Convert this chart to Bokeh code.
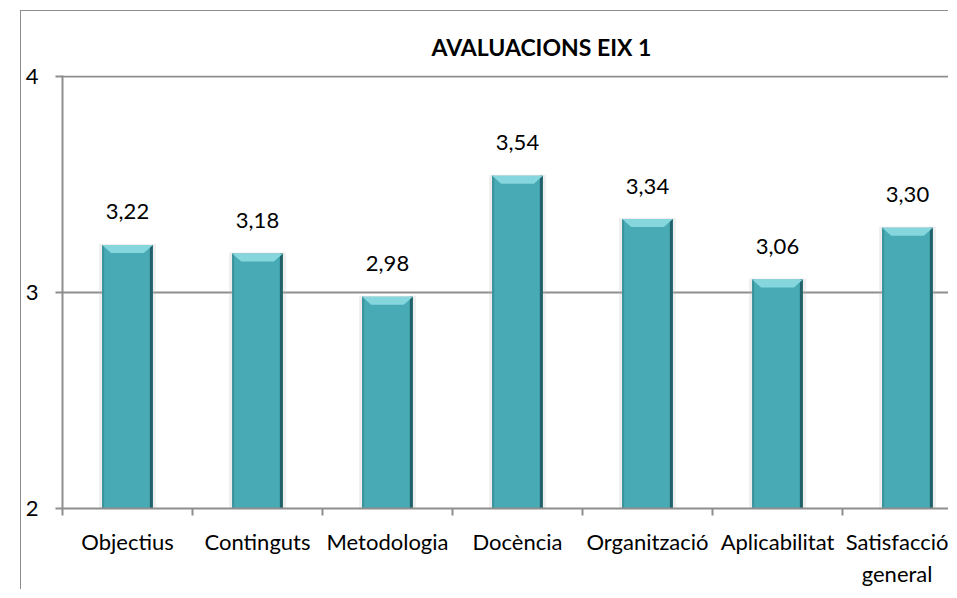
from bokeh.plotting import figure
from bokeh.models import Range1d, FixedTicker, LinearAxis
from bokeh.embed import file_html
from bokeh.resources import INLINE
from bokeh.core.properties import value

# ---- data ----
categories = ["Objectius", "Continguts", "Metodologia", "Docència",
              "Organització", "Aplicabilitat", "Satisfacció\ngeneral"]
scores = [3.22, 3.18, 2.98, 3.54, 3.34, 3.06, 3.30]
y_ticks = [2, 3, 4]
y_tick_labels = ["2", "3", "4"]
title_text = "AVALUACIONS EIX 1"

# ---- layout constants ----
FONT = "Lato"
W, H = 928, 579
BORDER_L, BORDER_B, BORDER_T = 41, 82, 64
CAT_PX = 130.0
frame_w = W - BORDER_L
frame_h = H - BORDER_T - BORDER_B
x_end = frame_w / CAT_PX
y0, y1 = 2, 4
px_y = frame_h / (y1 - y0)

n = len(categories)
xc = [i + 0.5 for i in range(n)]
bar_w = 0.39

p = figure(width=W, height=H, output_backend="svg", toolbar_location=None,
           x_range=Range1d(0, x_end), y_range=Range1d(y0, y1 + 1.0 / px_y),
           min_border_left=BORDER_L, min_border_right=0,
           min_border_top=BORDER_T, min_border_bottom=BORDER_B,
           x_axis_type=None)
p.margin = (10, 0, 0, 20)
p.styles = {"border-left": "1px solid #8c8c8c", "border-top": "1px solid #8c8c8c"}
p.outline_line_color = None
p.background_fill_color = "white"
p.border_fill_color = "white"

# title
p.title.text = title_text
p.title.text_font = FONT
p.title.text_font_size = "23px"
p.title.text_font_style = "bold"
p.title.text_color = "black"
p.title.align = "left"
p.title.offset = 369
p.title.standoff = 30

# y axis
yax = p.yaxis[0]
yax.ticker = FixedTicker(ticks=y_ticks)
yax.major_label_overrides = {t: l for t, l in zip(y_ticks, y_tick_labels)}
yax.minor_tick_line_color = None
yax.major_tick_in = 0
yax.major_tick_out = 7
yax.major_label_standoff = 17
yax.axis_line_color = "#8e8e8e"
yax.axis_line_width = 2
yax.major_tick_line_color = "#8e8e8e"
yax.major_tick_line_width = 2
yax.major_label_text_font = FONT
yax.major_label_text_font_size = "22px"
yax.major_label_text_color = "black"

p.ygrid.ticker = FixedTicker(ticks=y_ticks[1:])
p.ygrid.grid_line_color = "#8e8e8e"
p.ygrid.grid_line_width = 2
p.xgrid.visible = False

# x axis: labels at category centres, boundary marks as minor ticks
xax = LinearAxis(ticker=FixedTicker(ticks=xc, minor_ticks=list(range(n + 1))))
xax.major_label_overrides = {x: c for x, c in zip(xc, categories)}
xax.axis_line_color = "#8e8e8e"
xax.axis_line_width = 2
xax.major_tick_line_color = None
xax.major_tick_out = 7
xax.minor_tick_line_color = "#8e8e8e"
xax.minor_tick_line_width = 2
xax.minor_tick_in = 0
xax.minor_tick_out = 7
xax.major_label_standoff = 12
xax.major_label_text_font = FONT
xax.major_label_text_font_size = "22px"
xax.major_label_text_color = "black"
p.add_layout(xax, "below")

# bars: soft shadow
sh = 3.0 / CAT_PX
p.vbar(x=xc, top=[s + 1.0 / px_y for s in scores], bottom=y0, width=bar_w + 2 * sh,
       fill_color="#bbbbbb", fill_alpha=0.25, line_color=None)
# main body
p.vbar(x=xc, top=scores, bottom=y0, width=bar_w, fill_color="#47aab4", line_color=None)
# left/right edges
ew_r = 3.0 / CAT_PX
ew_l = 2.0 / CAT_PX
p.vbar(x=[x + bar_w / 2 - ew_r / 2 for x in xc], top=scores, bottom=y0, width=ew_r,
       fill_color="#23606a", line_color=None)
p.vbar(x=[x - bar_w / 2 + ew_l / 2 for x in xc], top=scores, bottom=y0, width=ew_l,
       fill_color="#3a939c", line_color=None)
# top bevel
bdx = 9.0 / CAT_PX
bdy = 8.0 / px_y
bx, by = [], []
for x, s in zip(xc, scores):
    bx.append([x - bar_w / 2, x + bar_w / 2, x + bar_w / 2 - bdx, x - bar_w / 2 + bdx])
    by.append([s, s, s - bdy, s - bdy])
p.patches(xs=bx, ys=by, fill_color="#86d6de", line_color=None)

# value labels
labels = [f"{s:.2f}".replace(".", ",") for s in scores]
p.text(x=xc, y=scores, text=labels, y_offset=-33, text_align="center",
       text_baseline="alphabetic", text_font=value(FONT), text_font_size="22px",
       text_color="black")

open("out.html", "w").write(file_html(p, INLINE))
